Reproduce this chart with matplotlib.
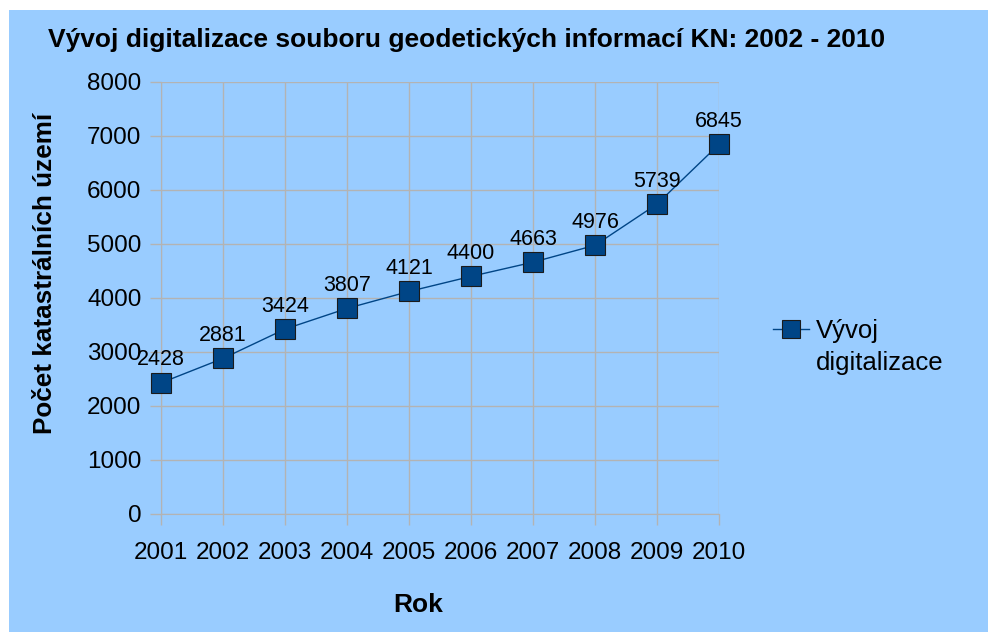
import matplotlib
matplotlib.use("Agg")
import matplotlib.pyplot as plt
from matplotlib.lines import Line2D
from matplotlib.patches import Rectangle

years = [2001, 2002, 2003, 2004, 2005, 2006, 2007, 2008, 2009, 2010]
values = [2428, 2881, 3424, 3807, 4121, 4400, 4663, 4976, 5739, 6845]
yticks = [0, 1000, 2000, 3000, 4000, 5000, 6000, 7000, 8000]

plt.rcParams['font.family'] = ['Liberation Sans', 'DejaVu Sans']

W, H = 988, 632
fig = plt.figure(figsize=(W/100, H/100), dpi=100, facecolor='white')
fig.patches.append(Rectangle((9/W, -0.01), 1.02, 1.01 - 10/H, transform=fig.transFigure,
                             facecolor='#99ccff', edgecolor='none', zorder=-10))

ax = fig.add_axes([161/W, 1 - 514/H, (719-161)/W, (514-82)/H])
ax.patch.set_alpha(0)
ax.plot(years, values, color='#004586', lw=1, marker='s', markersize=14,
        markerfacecolor='#004586', markeredgecolor='#1a1a1a', markeredgewidth=0.8,
        clip_on=False, zorder=5)
for x, v in zip(years, values):
    ax.annotate(str(v), (x, v), xytext=(0, 9), textcoords='offset points',
                ha='center', va='bottom', fontsize=15.5, zorder=6)

ax.set_xlim(2001, 2010)
ax.set_ylim(0, 8000)
ax.set_xticks(years)
ax.set_yticks(yticks)
ax.tick_params(axis='both', labelsize=17.5, color='#b3b3b3', length=8, width=1)
ax.tick_params(axis='x', pad=12)
ax.tick_params(axis='y', pad=6)
ax.grid(True, color='#b3b3b3', lw=1)
for s in ax.spines.values():
    s.set_visible(False)
ax.spines['left'].set_visible(True)
ax.spines['left'].set_color('#b3b3b3')
ax.spines['bottom'].set_visible(True)
ax.spines['bottom'].set_color('#b3b3b3')

fig.text(48/W, 1 - 40/H, 'Vývoj digitalizace souboru geodetických informací KN: 2002 - 2010',
         fontsize=19, fontweight='bold', ha='left', va='center')
fig.text(45/W, 1 - 273/H, 'Počet katastrálních území', fontsize=18.8, fontweight='bold',
         rotation=90, ha='center', va='center')
fig.text(418/W, 1 - 605/H, 'Rok', fontsize=19, fontweight='bold', ha='center', va='center')

h = Line2D([], [], color='#004586', lw=1, marker='s', markersize=13,
           markerfacecolor='#004586', markeredgecolor='#1a1a1a', markeredgewidth=0.8)
leg = fig.legend([h], ['Vývoj'], loc='center left',
                 bbox_to_anchor=(750/W, 1 - 331/H), frameon=False, fontsize=18.5,
                 handlelength=1.4, handletextpad=0.25)
fig.canvas.draw()
tx = leg.get_texts()[0].get_window_extent().x0
fig.text(tx/W, 1 - 363/H, 'digitalizace', fontsize=18.5, ha='left', va='center')

fig.savefig('out.png', dpi=100, facecolor='white')
